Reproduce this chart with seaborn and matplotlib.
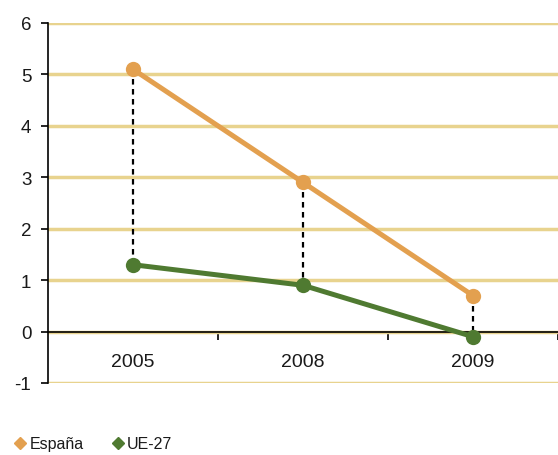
import pandas as pd
import matplotlib.pyplot as plt
from matplotlib.lines import Line2D
import seaborn as sns

# data
years = ['2005', '2008', '2009']
espana = [5.1, 2.9, 0.7]
ue27 = [1.3, 0.9, -0.1]
series_names = ['España', 'UE-27']

colors = {'España': '#E3A04F', 'UE-27': '#4F7A31'}
grid_color = '#E8D38E'
text_color = '#1a1a1a'

df = pd.DataFrame({
    'pos': list(range(len(years))) * 2,
    'year': years * 2,
    'value': espana + ue27,
    'serie': [series_names[0]] * len(years) + [series_names[1]] * len(years),
})

sns.set_style('white')
plt.rcParams['font.family'] = ['Liberation Sans', 'DejaVu Sans']
plt.rcParams['axes.unicode_minus'] = False

fig = plt.figure(figsize=(5.58, 4.56), dpi=100)
ax = fig.add_axes([48 / 558, 1 - 384 / 456, 510 / 558, 360 / 456])

# dotted connectors between the two series
for i in range(len(years)):
    ax.plot([i, i], [espana[i], ue27[i]], color='black', lw=1.6,
            ls=(0, (2.5, 2)), zorder=2)

sns.lineplot(data=df, x='pos', y='value', hue='serie', palette=colors,
             marker='o', markersize=11, markeredgewidth=0, linewidth=3.6,
             legend=False, ax=ax, zorder=3)

ax.set_xlim(-0.5, 2.5)
ax.set_ylim(-1, 6)
ax.set_yticks(range(-1, 7))
ax.yaxis.grid(True, color=grid_color, lw=2.5)
ax.set_axisbelow(True)

ax.spines['top'].set_visible(False)
ax.spines['right'].set_visible(False)
ax.spines['bottom'].set_position(('data', 0))
ax.spines['bottom'].set_color('black')
ax.spines['left'].set_color('black')
ax.spines['bottom'].set_linewidth(1.2)
ax.spines['left'].set_linewidth(1.2)

ax.set_xticks([0.5, 1.5, 2.5])
ax.set_xticklabels([])
ax.tick_params(axis='x', direction='out', length=6, width=1.2, color='black', bottom=True)
ax.tick_params(axis='y', direction='out', length=5, width=1.2, color='black',
               left=True, labelsize=13.5, pad=7, labelcolor=text_color)
ax.set_xlabel('')
ax.set_ylabel('')

for i, y in enumerate(years):
    ax.text(i, -0.58, y, ha='center', va='center', fontsize=14, color=text_color)

handles = [Line2D([], [], marker='D', ls='', color=colors[n], markersize=6, label=n)
           for n in series_names]
leg = fig.legend(handles=handles, loc='center left', bbox_to_anchor=(0.022, 1 - 445 / 456),
                 ncol=2, frameon=False, fontsize=11.5, handletextpad=0.1,
                 columnspacing=1.6, handlelength=1.0, borderaxespad=0, borderpad=0)
for t in leg.get_texts():
    t.set_color(text_color)

fig.savefig('out.png', dpi=100)
